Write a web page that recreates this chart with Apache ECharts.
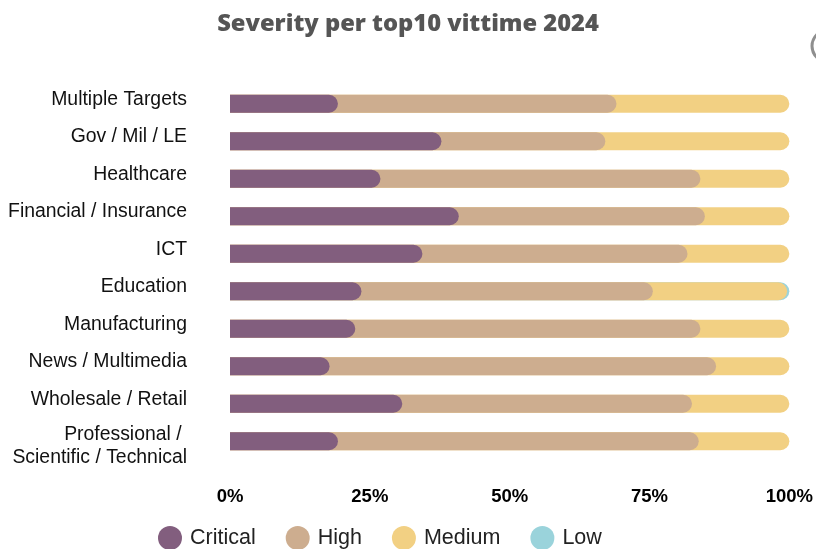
<!DOCTYPE html>
<html>
<head>
<meta charset="utf-8">
<script src="https://cdn.jsdelivr.net/npm/echarts@6/dist/echarts.min.js"></script>
<style>
  html, body { margin: 0; padding: 0; background: #ffffff; }
  #chart { width: 816px; height: 549px; }
</style>
</head>
<body>
<div id="chart"></div>
<script>
// Sectors, top to bottom
const categories = [
  'Multiple Targets',
  'Gov / Mil / LE',
  'Healthcare',
  'Financial / Insurance',
  'ICT',
  'Education',
  'Manufacturing',
  'News / Multimedia',
  'Wholesale / Retail',
  'Professional / \nScientific / Technical'
];

// Share of attacks by severity (%)
const critical = [19.3, 37.8, 26.9, 40.9, 34.4, 23.5, 22.4, 17.8, 30.8, 19.3];
const high     = [49.8, 29.3, 57.2, 44.0, 47.4, 52.1, 61.7, 69.1, 51.8, 64.5];
const medium   = [30.9, 32.9, 15.9, 15.1, 18.2, 24.0, 15.9, 13.1, 17.4, 16.2];
const low      = [0,    0,    0,    0,    0,    0.4,  0,    0,    0,    0];

const xTicks = ['0%', '25%', '50%', '75%', '100%'];

const seriesNames = ['Critical', 'High', 'Medium', 'Low'];
const seriesColors = ['#825e7e', '#cdad8f', '#f2d083', '#9ad3db'];
const parts = [critical, high, medium, low];

// Each segment is drawn as a rounded bar reaching its cumulative end,
// layered so the earlier severity sits on top of the later ones.
const cumulative = parts.map((_, s) => categories.map((__, i) => {
  if (parts[s][i] === 0) return '-';
  let sum = 0;
  for (let k = 0; k <= s; k++) sum += parts[k][i];
  return Math.min(100, +sum.toFixed(2));
}));

// Category labels hang from a common top offset: one-line labels sit a
// little above their bar, two-line labels a little below (a thin spacer
// line pushes them down).
function categoryLabel(v) {
  const lines = v.split('\n');
  if (lines.length === 1) return '{s|' + v + '}';
  return '{g| }\n{t|' + lines.join('}\n{t|') + '}';
}
const labelFont = {
  fontFamily: 'Liberation Sans',
  fontSize: 19.4,
  lineHeight: 23,
  color: '#111111',
  align: 'right'
};

const chart = echarts.init(document.getElementById('chart'), null, { renderer: 'canvas' });

chart.setOption({
  animation: false,
  title: {
    text: 'Severity per top10 vittime 2024',
    left: 'center',
    top: 7,
    textStyle: {
      fontFamily: 'Open Sans',
      fontWeight: 800,
      fontSize: 23.7,
      color: '#555555'
    }
  },
  legend: {
    data: seriesNames,
    left: 153,
    top: 521,
    icon: 'circle',
    itemWidth: 24,
    itemHeight: 24,
    itemGap: 30,
    textStyle: {
      fontFamily: 'Liberation Sans',
      fontSize: 21.5,
      color: '#222222',
      padding: [0, 0, 0, 3]
    }
  },
  grid: {
    left: 230,
    right: 26,
    top: 85,
    bottom: 89,
    containLabel: false
  },
  xAxis: {
    type: 'value',
    min: 0,
    max: 100,
    interval: 25,
    axisLine: { show: false },
    axisTick: { show: false },
    splitLine: { show: false },
    axisLabel: {
      margin: 27,
      fontFamily: 'Liberation Sans',
      fontWeight: 'bold',
      fontSize: 18.5,
      color: '#000000',
      formatter: (v) => xTicks[Math.round(v / 25)]
    }
  },
  yAxis: {
    type: 'category',
    data: categories,
    inverse: true,
    axisLine: { show: false },
    axisTick: { show: false },
    splitLine: { show: false },
    axisLabel: Object.assign({
      interval: 0,
      hideOverlap: false,
      margin: 43,
      formatter: categoryLabel,
      rich: {
        s: Object.assign({}, labelFont, { padding: [0, 0, 9, 0] }),
        g: Object.assign({}, labelFont, { fontSize: 6, lineHeight: 9 }),
        t: Object.assign({}, labelFont)
      }
    }, labelFont)
  },
  graphic: [{
    type: 'circle',
    shape: { cx: 828, cy: 46, r: 16 },
    style: { fill: '#ffffff', stroke: '#8f8f8f', lineWidth: 3 },
    silent: true
  }],
  series: seriesNames.map((name, s) => ({
    name: name,
    type: 'bar',
    data: cumulative[s],
    barWidth: 18,
    barGap: '-100%',
    z: 10 - s,
    itemStyle: {
      color: seriesColors[s],
      borderRadius: [0, 9, 9, 0]
    },
    emphasis: { disabled: true }
  }))
});
</script>
</body>
</html>
